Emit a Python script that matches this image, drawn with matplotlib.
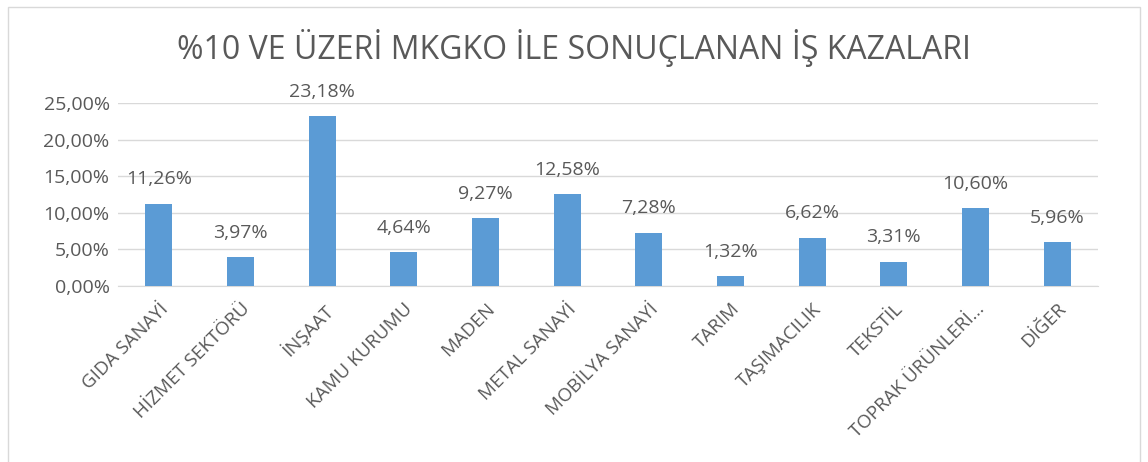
import matplotlib
matplotlib.use("Agg")
import matplotlib.pyplot as plt
from matplotlib.patches import Rectangle

categories = ["GIDA SANAYİ", "HİZMET SEKTÖRÜ", "İNŞAAT", "KAMU KURUMU", "MADEN",
              "METAL SANAYİ", "MOBİLYA SANAYİ", "TARIM", "TAŞIMACILIK", "TEKSTİL",
              "TOPRAK ÜRÜNLERİ...", "DİĞER"]
values = [11.26, 3.97, 23.18, 4.64, 9.27, 12.58, 7.28, 1.32, 6.62, 3.31, 10.60, 5.96]
yticks = [0, 5, 10, 15, 20, 25]
title = "%10 VE ÜZERİ MKGKO İLE SONUÇLANAN İŞ KAZALARI"

plt.rcParams['font.family'] = ['Open Sans', 'DejaVu Sans']
gray = "#595959"

fig = plt.figure(figsize=(11.48, 4.62), dpi=100)
fig.patches.append(Rectangle((8/1148, -0.1), (1140-8)/1148, 1 - 7/462 + 0.1,
                             transform=fig.transFigure, fill=False,
                             edgecolor="#D9D9D9", linewidth=1))
ax = fig.add_axes([118/1148, 1-286/462, (1098-118)/1148, (286-103)/462])

x = list(range(len(categories)))
ax.bar(x, values, width=0.33, color="#5B9BD5", zorder=3)
for xi, v in zip(x, values):
    ax.annotate(f"{v:.2f}%".replace(".", ","), (xi, v), xytext=(0, 11),
                textcoords="offset points", ha="center", va="bottom",
                fontsize=14, color=gray, annotation_clip=False)

ax.set_xlim(-0.5, len(categories) - 0.5)
ax.set_ylim(0, 25)
ax.set_yticks(yticks)
ax.set_yticklabels([f"{t:.2f}%".replace(".", ",") for t in yticks], fontsize=14, color=gray)
ax.set_xticks(x)
ax.set_xticklabels(categories, rotation=45, ha="right", rotation_mode="anchor",
                   fontsize=13.5, color=gray)
ax.tick_params(axis="both", length=0, pad=6)
ax.tick_params(axis="x", pad=10)
ax.grid(axis="y", color="#D9D9D9", linewidth=1, zorder=0)
for s in ["top", "right", "left"]:
    ax.spines[s].set_visible(False)
ax.spines["bottom"].set_color("#D9D9D9")

fig.text(0.5, 1 - 48/462, title, ha="center", va="center", fontsize=23, color=gray)

fig.savefig("out.png", dpi=100)
